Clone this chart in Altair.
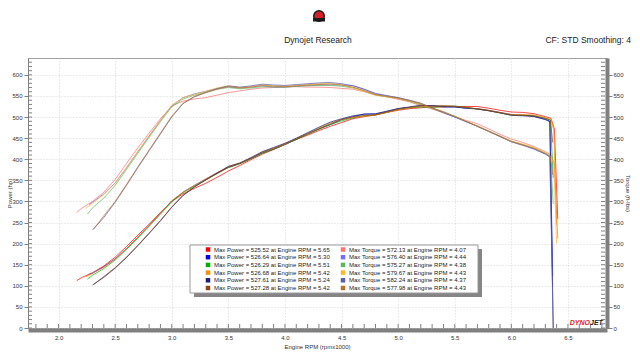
import altair as alt
import pandas as pd

# ---------------- data read from the dyno sheet ----------------
RPM_GRID = [2.2, 2.3, 2.4, 2.5, 2.6, 2.7, 2.8, 2.9, 3.0, 3.1, 3.2, 3.3, 3.4, 3.5,
            3.6, 3.7, 3.8, 3.9, 4.0, 4.1, 4.2, 4.3, 4.4, 4.5, 4.6, 4.7, 4.8, 4.9,
            5.0, 5.1, 5.2, 5.3, 5.4, 5.5, 5.6, 5.7, 5.8, 5.9, 6.0, 6.1, 6.2, 6.3]

HP_COLORS = ["#ff0000", "#0000ff", "#00b000", "#ff8c00", "#1c1c78", "#8b4513"]
TQ_COLORS = ["#ff7070", "#7070ff", "#5cb85c", "#ffb428", "#5c5ca8", "#b8732e"]

MAX_HP = [525.52, 526.64, 526.29, 526.68, 527.61, 527.28]
MAX_HP_RPM = [5.65, 5.30, 5.51, 5.42, 5.24, 5.42]
MAX_TQ = [572.13, 576.40, 575.27, 579.67, 582.24, 577.98]
MAX_TQ_RPM = [4.07, 4.44, 4.38, 4.43, 4.37, 4.43]

START_RPM = [2.16, 2.27, 2.255, 2.24, 2.30, 2.31]
START_HP = [112, 127, 116, 121, 102, 103]
START_TQ = [274, 293, 270, 283, 232, 235]

HP_1 = [119, 131, 147, 168, 193, 220, 246, 274, 300, 318, 331, 343, 357, 372, 385, 399, 412, 423, 435, 447,
        457, 468, 478, 487, 496, 501, 505, 511, 516, 520, 522, 524, 524, 525, 525, 525, 521, 516, 512, 511, 508, 501]
TQ_1 = [283, 300, 322, 352, 390, 427, 462, 496, 526, 538, 543, 546, 552, 558, 562, 566, 569, 570, 571, 572,
        571, 571, 570, 568, 566, 560, 552, 548, 542, 536, 527, 519, 510, 501, 492, 484, 472, 459, 448, 440, 430, 418]
HP_2 = [130, 145, 164, 188, 215, 243, 272, 301, 322, 338, 353, 368, 381, 390, 402, 415, 424, 435, 447, 460,
        472, 482, 494, 501, 507, 507, 513, 520, 523, 525, 527, 524, 524, 521, 520, 516, 511, 506, 505, 502, 495]
TQ_2 = [298, 318, 344, 380, 418, 455, 492, 527, 546, 555, 561, 568, 572, 569, 571, 574, 571, 571, 573, 575,
        576, 576, 576, 575, 566, 555, 550, 546, 539, 530, 522, 510, 500, 489, 479, 467, 455, 443, 435, 425, 413]
HP_3 = [125, 141, 161, 186, 213, 241, 270, 299, 321, 336, 351, 366, 380, 389, 401, 414, 424, 435, 447, 459,
        471, 482, 491, 498, 503, 505, 511, 518, 522, 524, 523, 525, 526, 523, 519, 515, 510, 505, 504, 503, 497]
TQ_3 = [285, 308, 338, 376, 414, 452, 489, 524, 543, 552, 559, 566, 570, 567, 569, 572, 571, 571, 573, 574,
        575, 575, 573, 569, 562, 553, 548, 544, 537, 529, 520, 511, 502, 490, 478, 466, 454, 442, 434, 426, 414]
HP_4 = [130, 144, 163, 188, 215, 243, 272, 302, 322, 338, 353, 368, 383, 391, 403, 417, 426, 436, 449, 461,
        474, 486, 494, 499, 502, 505, 511, 518, 522, 525, 526, 526, 525, 522, 520, 516, 511, 506, 506, 505, 499]
TQ_4 = [296, 316, 343, 380, 418, 456, 492, 528, 546, 554, 561, 569, 574, 570, 572, 576, 574, 573, 575, 577,
        579, 580, 576, 570, 561, 552, 548, 544, 538, 530, 521, 512, 501, 490, 479, 467, 455, 443, 436, 428, 416]
HP_5 = [120, 142, 167, 195, 224, 254, 286, 314, 334, 351, 367, 383, 391, 404, 418, 428, 438, 450, 463, 476,
        488, 496, 503, 507, 508, 514, 520, 524, 528, 527, 525, 524, 521, 519, 515, 510, 504, 503, 501, 494]
TQ_5 = [262, 298, 338, 380, 420, 460, 500, 532, 548, 558, 567, 574, 571, 574, 578, 576, 575, 577, 579, 581,
        582, 579, 574, 566, 556, 551, 546, 540, 533, 522, 511, 500, 489, 478, 466, 454, 441, 433, 424, 412]
HP_6 = [122, 143, 168, 196, 225, 255, 287, 315, 335, 351, 366, 381, 390, 402, 416, 426, 436, 448, 461, 472,
        484, 494, 500, 504, 505, 512, 519, 523, 527, 526, 527, 526, 523, 519, 515, 510, 505, 504, 503, 497]
TQ_6 = [266, 300, 340, 382, 422, 462, 502, 533, 549, 558, 566, 572, 569, 571, 575, 573, 572, 574, 576, 577,
        578, 576, 571, 563, 553, 549, 545, 539, 532, 521, 513, 502, 490, 478, 466, 454, 442, 434, 426, 414]

TAIL_RPM = [[6.35, 6.38, 6.41], [6.34, 6.365], [6.345, 6.37], [6.35, 6.375, 6.40], [6.34, 6.37], [6.345, 6.365]]
TAIL_HP = [[497, 472, 258], [490, 122], [492, 356], [495, 468, 244], [489, 0], [493, 440]]
TAIL_TQ = [[411, 389, 212], [406, 101], [407, 294], [409, 386, 200], [405, 0], [407, 363]]

HP_RUNS = [HP_1, HP_2, HP_3, HP_4, HP_5, HP_6]
TQ_RUNS = [TQ_1, TQ_2, TQ_3, TQ_4, TQ_5, TQ_6]

X_TICKS = [2.0, 2.5, 3.0, 3.5, 4.0, 4.5, 5.0, 5.5, 6.0, 6.5]
Y_TICKS = [0, 50, 100, 150, 200, 250, 300, 350, 400, 450, 500, 550, 600]
X_MINOR = [round(1.8 + 0.1 * k, 1) for k in range(51)]
Y_MINOR = [10 * k for k in range(64)]

TITLE = "Dynojet Research"
SUBTITLE = "CF: STD Smoothing: 4"
X_TITLE = "Engine RPM (rpmx1000)"

# ---------------- build tables ----------------
HP_LABELS = [f"Max Power = {MAX_HP[i]:.2f} at Engine RPM = {MAX_HP_RPM[i]:.2f}" for i in range(6)]
TQ_LABELS = [f"Max Torque = {MAX_TQ[i]:.2f} at Engine RPM = {MAX_TQ_RPM[i]:.2f}" for i in range(6)]

rows = []
for i in range(6):
    s = START_RPM[i]
    grid = [r for r in RPM_GRID if r > s + 1e-6]
    rpms = [s] + grid + TAIL_RPM[i]
    hps = [START_HP[i]] + HP_RUNS[i] + TAIL_HP[i]
    tqs = [START_TQ[i]] + TQ_RUNS[i] + TAIL_TQ[i]
    assert len(rpms) == len(hps) == len(tqs), (i, len(rpms), len(hps), len(tqs))
    for k, (r, h, t) in enumerate(zip(rpms, hps, tqs)):
        rows.append({"rpm": r, "value": h, "label": HP_LABELS[i], "ord": k})
        rows.append({"rpm": r, "value": t, "label": TQ_LABELS[i], "ord": k})
df = pd.DataFrame(rows)

domain = HP_LABELS + TQ_LABELS
colors = HP_COLORS + TQ_COLORS

# legend table (layout of the boxed key)
leg = []
for i in range(6):
    leg.append({"label": HP_LABELS[i], "clr": HP_COLORS[i], "px": 180, "py": 191.5 + 7.7 * i})
    leg.append({"label": TQ_LABELS[i], "clr": TQ_COLORS[i], "px": 315, "py": 191.5 + 7.7 * i})
leg = pd.DataFrame(leg)
leg["tx"] = leg["px"] + 6

W, H = 579, 270
FONT = "Liberation Sans"
GRAY = "#808080"
xs = alt.Scale(domain=[1.73, 6.845], nice=False, zero=False)
ys = alt.Scale(domain=[0, 640], nice=False)

X_AXIS = alt.Axis(values=X_TICKS, format=".1f", grid=True, gridColor="#d6d6d6", gridDash=[1, 2],
                  domainColor=GRAY, domainWidth=4, ticks=False, labels=True, labelPadding=4,
                  offset=2, title=None, labelColor="#333", labelFontSize=6)

lines = alt.Chart(df).mark_line(strokeWidth=0.85, opacity=0.85).encode(
    x=alt.X("rpm:Q", scale=xs, axis=X_AXIS),
    y=alt.Y("value:Q", scale=ys, axis=alt.Axis(
        values=Y_TICKS, grid=True, gridColor="#d6d6d6", gridDash=[1, 2],
        domainColor=GRAY, tickColor=GRAY, tickSize=4, labelPadding=2,
        title="Power (hp)", titleX=-19, titleY=H / 2, titleBaseline="middle")),
    color=alt.Color("label:N", scale=alt.Scale(domain=domain, range=colors), legend=None),
    detail="label:N",
    order="ord:Q",
)

right_ticks = alt.Chart(pd.DataFrame({"t": Y_MINOR})).mark_rule(color=GRAY, strokeWidth=1).encode(
    y=alt.Y("t:Q", scale=ys, axis=alt.Axis(
        orient="right", values=Y_TICKS, grid=False, domainColor=GRAY, domainWidth=4,
        tickColor=GRAY, tickSize=5, labelPadding=1, title="Torque (ft-lbs)",
        titleX=20, titleY=H / 2, titleBaseline="middle")),
    x=alt.value(W - 6), x2=alt.value(W - 2),
)
left_ticks = alt.Chart(pd.DataFrame({"t": Y_MINOR})).mark_rule(color=GRAY, strokeWidth=1).encode(
    y=alt.Y("t:Q", scale=ys, axis=None), x=alt.value(0), x2=alt.value(4),
)
bottom_ticks = alt.Chart(pd.DataFrame({"t": X_MINOR})).mark_rule(color=GRAY, strokeWidth=1).encode(
    x=alt.X("t:Q", scale=xs, axis=X_AXIS), y=alt.value(H - 4), y2=alt.value(H),
)
x_title = alt.Chart(pd.DataFrame({"t": [X_TITLE]})).mark_text(
    font=FONT, fontSize=6, color="#333", align="center", baseline="middle").encode(
    text="t:N", x=alt.value(W / 2), y=alt.value(H + 19))

shadow = alt.Chart(pd.DataFrame({"a": [0]})).mark_rect(color="#858585").encode(
    x=alt.value(166), x2=alt.value(454), y=alt.value(191), y2=alt.value(239))
box = alt.Chart(pd.DataFrame({"a": [0]})).mark_rect(fill="white", stroke="#9a9a9a", strokeWidth=1).encode(
    x=alt.value(162), x2=alt.value(450), y=alt.value(187), y2=alt.value(235))
leg_sq = alt.Chart(leg).mark_square(size=20, filled=True, opacity=1).encode(
    x=alt.X("px:Q", scale=None, axis=None), y=alt.Y("py:Q", scale=None, axis=None),
    color=alt.Color("clr:N", scale=None))
leg_tx = alt.Chart(leg).mark_text(font=FONT, fontSize=6, color="#222", align="left", baseline="middle").encode(
    x=alt.X("tx:Q", scale=None, axis=None), y=alt.Y("py:Q", scale=None, axis=None), text="label:N")

title = alt.Chart(pd.DataFrame({"t": [TITLE]})).mark_text(
    font=FONT, fontSize=8.5, color="#222", align="center", baseline="middle").encode(
    text="t:N", x=alt.value(290), y=alt.value(-18))
subtitle = alt.Chart(pd.DataFrame({"t": [SUBTITLE]})).mark_text(
    font=FONT, fontSize=8.5, color="#222", align="right", baseline="middle").encode(
    text="t:N", x=alt.value(603), y=alt.value(-18))
logo = alt.Chart(pd.DataFrame({"a": [0]})).mark_point(
    shape="circle", filled=True, fill="#d4202a", stroke="#1a1a1a", strokeWidth=1.5, size=110, opacity=1).encode(
    x=alt.value(291), y=alt.value(-42))
logo_band = alt.Chart(pd.DataFrame({"a": [0]})).mark_rect(color="#1a1a1a").encode(
    x=alt.value(285), x2=alt.value(297), y=alt.value(-40), y2=alt.value(-36.5))
dyno = alt.Chart(pd.DataFrame({"t": ["DYNO"]})).mark_text(
    font=FONT, fontSize=7, fontWeight="bold", fontStyle="italic", color="#e0202a",
    align="right", baseline="middle").encode(text="t:N", x=alt.value(562), y=alt.value(265))
jet = alt.Chart(pd.DataFrame({"t": ["JET"]})).mark_text(
    font=FONT, fontSize=7, fontWeight="bold", fontStyle="italic", color="#222",
    align="left", baseline="middle").encode(text="t:N", x=alt.value(562), y=alt.value(265))

chart = alt.layer(
    lines, left_ticks, bottom_ticks, right_ticks, shadow, box, leg_sq, leg_tx,
    x_title, title, subtitle, logo, logo_band, dyno, jet,
).resolve_scale(y="shared").resolve_axis(y="independent").properties(
    width=W, height=H,
    autosize=alt.AutoSizeParams(type="none"),
    padding={"left": 20, "top": 50, "right": 25, "bottom": 24},
    background="white",
).configure_view(stroke="#a0a0a0", strokeWidth=1).configure_axis(
    labelFont=FONT, labelFontSize=6, labelColor="#333", titleFont=FONT, titleFontSize=6,
    titleFontWeight="normal", titleColor="#333",
)

chart.save("out.html", embed_options={"renderer": "svg", "actions": False})
